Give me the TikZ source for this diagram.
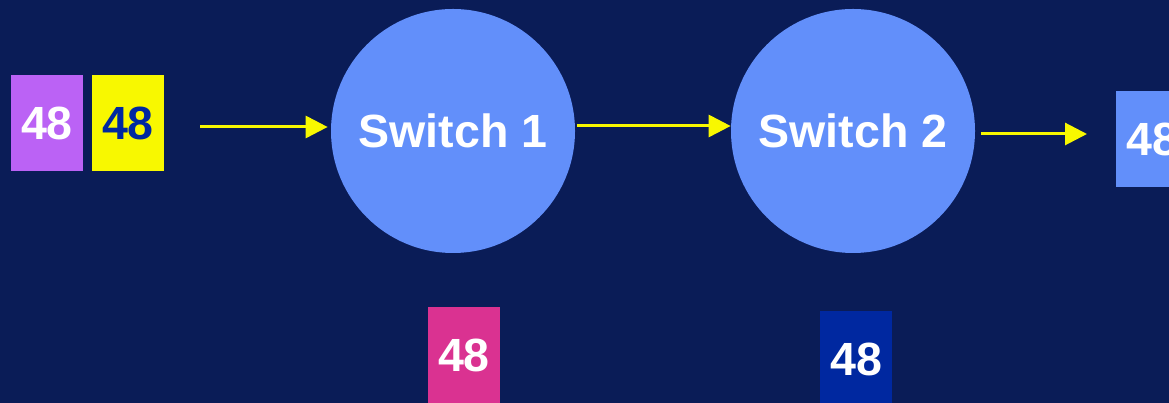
\documentclass[tikz,border=0pt]{standalone}
\usepackage{fontspec}
\setmainfont{Liberation Sans}
\usetikzlibrary{arrows.meta}
\definecolor{navy}{RGB}{10,28,87}
\definecolor{switchblue}{RGB}{98,143,250}
\definecolor{lilac}{RGB}{187,98,245}
\definecolor{lemon}{RGB}{248,248,0}
\definecolor{deepblue}{RGB}{0,40,160}
\definecolor{rosa}{RGB}{218,50,145}

\tikzset{
  packet/.style={rectangle, minimum width=1.44cm, minimum height=1.92cm, inner sep=0pt,
    text=white, font=\fontsize{26.5}{30}\selectfont\bfseries},
  switch/.style={circle, minimum size=4.88cm, inner sep=0pt, fill=switchblue,
    text=white, font=\fontsize{26.5}{30}\selectfont\bfseries},
  flow/.style={draw=lemon, line width=1.7pt, -{Triangle[length=0.44cm, width=0.44cm]}}
}

\begin{document}
\begin{tikzpicture}
        % background
        \useasboundingbox (0,0) rectangle (23.38,8.06);
        \clip (0,0) rectangle (23.38,8.06);
        \fill[navy] (0,0) rectangle (23.38,8.06);

        % packets waiting
        \node[packet, fill=lilac] (p1) at (0.94,5.60) {48};
        \node[packet, fill=lemon, text=deepblue] (p2) at (2.56,5.60) {48};

        % switches
        \node[switch] (s1) at (9.06,5.44) {Switch 1};
        \node[switch] (s2) at (17.06,5.44) {Switch 2};

        % packets out
        \node[packet, fill=switchblue] (p3) at (23.04,5.28) {48};
        \node[packet, fill=rosa] (p4) at (9.28,0.96) {48};
        \node[packet, fill=deepblue] (p5) at (17.12,0.88) {48};

        % links
        \coordinate (a1) at (4.00,5.52);
        \coordinate (a2) at (11.54,5.54);
        \coordinate (a3) at (19.62,5.38);
        \coordinate (b3) at (21.74,5.38);
        \draw[flow, shorten >=0.06cm] (a1) -- (s1.west |- a1);
        \draw[flow] (a2) -- (s2.west |- a2);
        \draw[flow] (a3) -- (b3);

    \end{tikzpicture}
\end{document}
